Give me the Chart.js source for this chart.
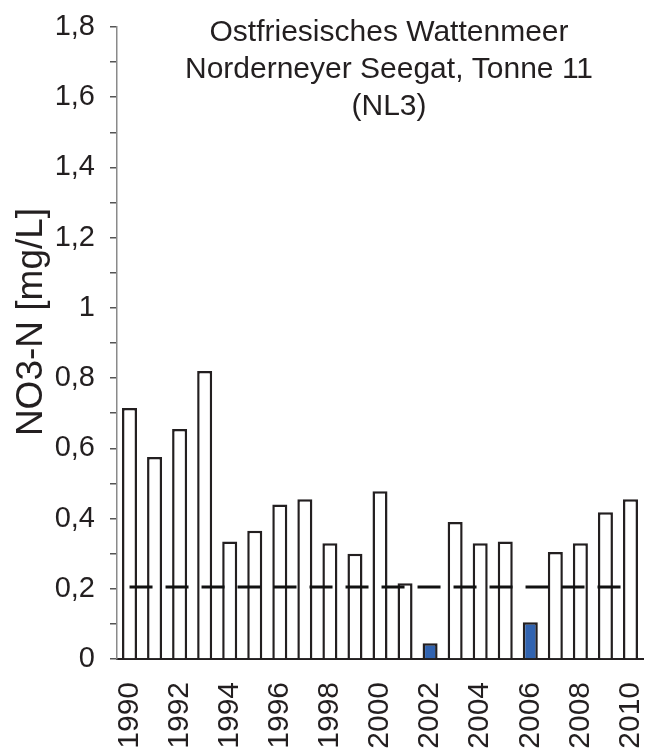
<!DOCTYPE html>
<html>
<head>
<meta charset="utf-8">
<script src="https://cdn.jsdelivr.net/npm/chart.js@4.4.1/dist/chart.umd.min.js"></script>
<style>
  html, body { margin: 0; padding: 0; background: #ffffff; }
  #wrap { width: 646px; height: 749px; position: relative; }
</style>
</head>
<body>
<div id="wrap"><canvas id="c"></canvas></div>
<script>
// ---- data ----
const years = ['1990','1991','1992','1993','1994','1995','1996','1997','1998','1999','2000',
               '2001','2002','2003','2004','2005','2006','2007','2008','2009','2010'];
const no3n = [0.715, 0.575, 0.655, 0.82, 0.335, 0.365, 0.44, 0.455, 0.33, 0.30, 0.478,
              0.216, 0.045, 0.39, 0.33, 0.335, 0.105, 0.305, 0.33, 0.418, 0.455];
const highlightedYears = ['2002', '2006'];
const thresholdValue = 0.205;
const thresholdLine = years.map(() => thresholdValue);
const yMin = 0, yMax = 1.8, yStep = 0.1;
const titleLines = ['Ostfriesisches Wattenmeer', 'Norderneyer Seegat, Tonne 11', '(NL3)'];
const yAxisLabel = 'NO3-N [mg/L]';

const FONT = "'Liberation Sans', Arial, sans-serif";
const TEXT = '#231f20';

const overlayText = {
  id: 'overlayText',
  afterDraw(chart) {
    const { ctx } = chart;
    ctx.save();
    ctx.fillStyle = TEXT;
    ctx.font = '30px ' + FONT;
    ctx.textAlign = 'center';
    ctx.textBaseline = 'alphabetic';
    const cx = 389;
    titleLines.forEach((t, i) => ctx.fillText(t, cx, 41 + i * 37));
    ctx.translate(42, 322);
    ctx.rotate(-Math.PI / 2);
    ctx.font = '37px ' + FONT;
    ctx.fillText(yAxisLabel, 0, 0);
    ctx.restore();
  }
};

function fmt(v) {
  const r = Math.round(v * 10);
  if (r % 2 !== 0) return '';
  if (r % 10 === 0) return String(r / 10);
  return (r / 10).toFixed(1).replace('.', ',');
}

new Chart(document.getElementById('c'), {
  data: {
    labels: years,
    datasets: [
      {
        type: 'line',
        label: 'Zielwert',
        data: thresholdLine,
        borderColor: '#111111',
        borderWidth: 3,
        borderDash: [23, 13],
        pointRadius: 0,
        fill: false,
        order: 1
      },
      {
        type: 'bar',
        label: 'NO3-N',
        data: no3n,
        backgroundColor: years.map(y => highlightedYears.includes(y) ? '#3163b0' : '#ffffff'),
        borderColor: '#231f20',
        borderWidth: 2.5,
        barPercentage: 0.6,
        categoryPercentage: 1.0,
        order: 2
      }
    ]
  },
  options: {
    responsive: true,
    maintainAspectRatio: false,
    animation: false,
    devicePixelRatio: 1,
    layout: { padding: { top: 27, right: 3, left: 0, bottom: 0 } },
    plugins: { legend: { display: false }, tooltip: { enabled: false }, title: { display: false } },
    scales: {
      x: {
        grid: { display: false },
        border: { display: true, color: '#231f20', width: 2 },
        ticks: {
          autoSkip: false,
          maxRotation: 90,
          minRotation: 90,
          padding: 15,
          color: TEXT,
          font: { family: FONT, size: 30 },
          callback: function (v, i) { return i % 2 === 0 ? years[i] : ''; }
        },
        afterFit: s => { s.height = 90; s.paddingLeft = 0; s.paddingRight = 0; }
      },
      y: {
        min: yMin,
        max: yMax,
        grid: { display: true, drawOnChartArea: false, drawTicks: true, tickLength: 7, color: '#555555', lineWidth: 1.5 },
        border: { display: true, color: '#8a8a8a', width: 1.5 },
        ticks: {
          stepSize: yStep,
          autoSkip: false,
          padding: 15,
          color: TEXT,
          font: { family: FONT, size: 29 },
          callback: v => fmt(v)
        },
        afterFit: s => { s.width = 117; s.paddingTop = 0; s.paddingBottom = 0; }
      }
    }
  },
  plugins: [overlayText]
});
</script>
</body>
</html>
